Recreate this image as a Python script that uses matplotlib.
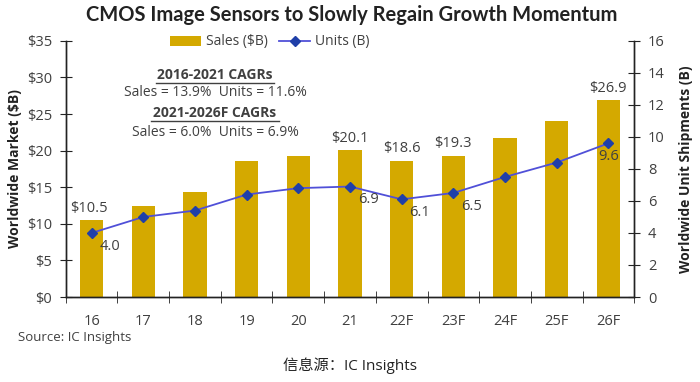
import numpy as np
import matplotlib
matplotlib.use("Agg")
from matplotlib import pyplot as plt

# data
years = ["16", "17", "18", "19", "20", "21", "22F", "23F", "24F", "25F", "26F"]
sales = [10.5, 12.5, 14.3, 18.6, 19.3, 20.1, 18.6, 19.3, 21.7, 24.0, 26.9]
units = [4.0, 5.0, 5.4, 6.4, 6.8, 6.9, 6.1, 6.5, 7.5, 8.4, 9.6]
sales_labeled = [0, 5, 6, 7, 10]
units_labeled = [0, 5, 6, 7, 10]

plt.rcParams['font.family'] = ['Open Sans', 'Noto Sans CJK SC', 'DejaVu Sans']
txt = '#404040'
bar_color = '#D4A900'
line_color = '#5050D8'
marker_color = '#1F3FA8'

fig = plt.figure(figsize=(7, 3.82), dpi=100)
ax = fig.add_axes([0.094, 0.2225, 0.812, 0.6705])
ax2 = ax.twinx()

x = np.arange(len(years))
ax.bar(x, sales, width=0.45, color=bar_color, zorder=2, label='Sales ($B)')
ax2.plot(x, units, color=line_color, lw=1.3, marker='D', markersize=5,
         markerfacecolor=marker_color, markeredgecolor=marker_color, label='Units (B)')

ax.set_xlim(-0.5, len(years) - 0.5)
ax.set_ylim(0, 35)
ax2.set_ylim(0, 16)
ax.set_yticks(np.arange(0, 36, 5))
ax.set_yticklabels(['$%d' % v for v in range(0, 36, 5)])
ax2.set_yticks(np.arange(0, 17, 2))

ax.set_xticks(x)
ax.set_xticklabels(years)
ax.set_xticks(np.arange(-0.5, len(years), 1), minor=True)
ax.tick_params(axis='x', which='major', length=0, pad=12, labelsize=10.5, colors=txt)
ax.tick_params(axis='x', which='minor', length=8, direction='inout', color='#222222')
ax.tick_params(axis='y', length=8, direction='inout', labelsize=10.5, colors=txt, color='#222222', pad=6)
ax2.tick_params(axis='y', length=8, direction='inout', labelsize=10.5, colors=txt, color='#222222', pad=6)

for a in (ax, ax2):
    a.spines['top'].set_visible(False)
    for s in ('left', 'right', 'bottom'):
        a.spines[s].set_color('#222222')
        a.spines[s].set_linewidth(1.0)

ax.set_ylabel('Worldwide Market ($B)', fontsize=10, fontweight='bold', color='#222222', labelpad=3)
ax2.set_ylabel('Worldwide Unit Shipments (B)', fontsize=10, fontweight='bold', color='#222222', labelpad=10)

# value labels
for i in sales_labeled:
    if i == 0:
        ax.text(x[i] - 0.05, sales[i] + 0.6, '$%.1f' % sales[i], ha='center', va='bottom', fontsize=10.5, color=txt)
    else:
        ax.text(x[i], sales[i] + 0.6, '$%.1f' % sales[i], ha='center', va='bottom', fontsize=10.5, color=txt)
for i in units_labeled:
    dx = 0.35 if i != 10 else 0.0
    ax2.text(x[i] + dx, units[i] - 0.35, '%.1f' % units[i], ha='center', va='top', fontsize=10.5, color=txt)

# CAGR notes
cx = 215 / 700
fig.text(cx, 1 - 75 / 382, '2016-2021 CAGRs', ha='center', va='center', fontsize=10, fontweight='bold', color=txt)
fig.text(cx, 1 - 93 / 382, 'Sales = 13.9%  Units = 11.6%', ha='center', va='center', fontsize=10, color=txt)
fig.text(cx, 1 - 113 / 382, '2021-2026F CAGRs', ha='center', va='center', fontsize=10, fontweight='bold', color=txt)
fig.text(cx, 1 - 132 / 382, 'Sales = 6.0%  Units = 6.9%', ha='center', va='center', fontsize=10, color=txt)
fig.add_artist(plt.Line2D([156 / 700, 274 / 700], [1 - 83 / 382] * 2, color=txt, lw=1))
fig.add_artist(plt.Line2D([151 / 700, 279 / 700], [1 - 121 / 382] * 2, color=txt, lw=1))

# legend
h1, l1 = ax.get_legend_handles_labels()
h2, l2 = ax2.get_legend_handles_labels()
fig.legend(h1 + h2, l1 + l2, loc='center', bbox_to_anchor=(270 / 700, 1 - 42 / 382), ncol=2,
           frameon=False, fontsize=10, handlelength=2.2, columnspacing=0.8, handletextpad=0.4,
           labelcolor=txt)

fig.text(352 / 700, 1 - 15 / 382, 'CMOS Image Sensors to Slowly Regain Growth Momentum',
         ha='center', va='center', fontsize=14.5, fontweight='bold', color='#222222', family='Lato')
fig.text(18 / 700, 1 - 337 / 382, 'Source: IC Insights', ha='left', va='center', fontsize=9.5, color=txt)
fig.text(0.5, 1 - 366 / 382, '信息源：IC Insights', ha='center', va='center', fontsize=11, color='#222222')

fig.savefig('out.png', dpi=100)
